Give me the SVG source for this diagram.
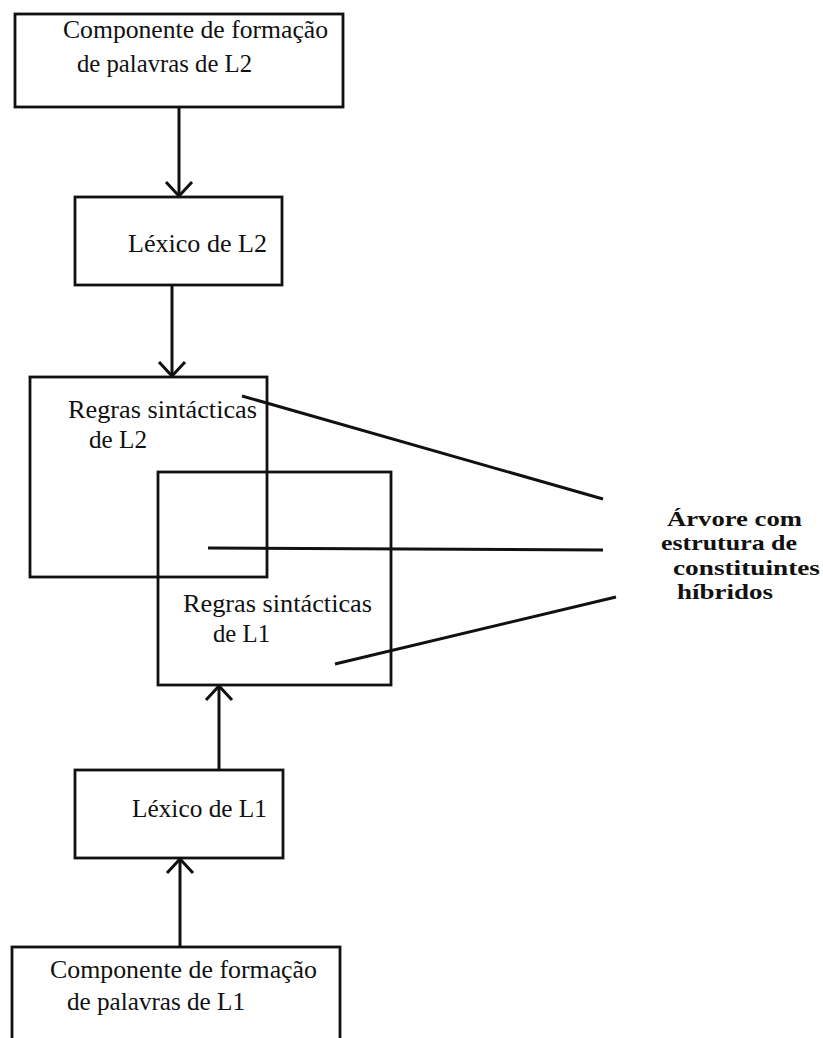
<svg xmlns="http://www.w3.org/2000/svg" width="823" height="1038" viewBox="0 0 823 1038">
<style>
.box{fill:none;stroke:#111;stroke-width:2.8}
.t{font-family:"Liberation Serif","Times New Roman",serif;font-size:25px;fill:#111}
.b{font-family:"Liberation Serif","Times New Roman",serif;font-size:21px;font-weight:bold;fill:#111}
.c{fill:none;stroke:#111;stroke-width:3}
</style>
<defs>
<marker id="chev" viewBox="-16 -16 20 32" refX="0" refY="0" markerWidth="20" markerHeight="32" markerUnits="userSpaceOnUse" orient="auto">
<path d="M -14 -13 L 0 0 L -14 13" fill="none" stroke="#111" stroke-width="3"/>
</marker>
</defs>
<rect width="823" height="1038" fill="#fff"/>
<g id="n1">
<rect class="box" x="15" y="14" width="328" height="93"/>
<text class="t" x="63" y="38" textLength="265" lengthAdjust="spacingAndGlyphs">Componente de formação</text>
<text class="t" x="77" y="72" textLength="175" lengthAdjust="spacingAndGlyphs">de palavras de L2</text>
</g>
<g id="n2">
<rect class="box" x="75" y="197" width="207" height="88"/>
<text class="t" x="128" y="252" textLength="139" lengthAdjust="spacingAndGlyphs">Léxico de L2</text>
</g>
<g id="n3">
<rect class="box" x="30" y="377" width="237" height="200"/>
<text class="t" x="68" y="418" textLength="189" lengthAdjust="spacingAndGlyphs">Regras sintácticas</text>
<text class="t" x="89" y="448" textLength="58" lengthAdjust="spacingAndGlyphs">de L2</text>
</g>
<g id="n4">
<rect class="box" x="158" y="472" width="233" height="213"/>
<text class="t" x="183" y="612" textLength="189" lengthAdjust="spacingAndGlyphs">Regras sintácticas</text>
<text class="t" x="213" y="642" textLength="57" lengthAdjust="spacingAndGlyphs">de L1</text>
</g>
<g id="n5">
<rect class="box" x="75" y="770" width="208" height="88"/>
<text class="t" x="132" y="817" textLength="135" lengthAdjust="spacingAndGlyphs">Léxico de L1</text>
</g>
<g id="n6">
<rect class="box" x="12" y="947" width="328" height="100"/>
<text class="t" x="50" y="978" textLength="267" lengthAdjust="spacingAndGlyphs">Componente de formação</text>
<text class="t" x="67" y="1010" textLength="178" lengthAdjust="spacingAndGlyphs">de palavras de L1</text>
</g>
<g id="label">
<text class="b" x="667" y="526" textLength="135" lengthAdjust="spacingAndGlyphs">Árvore com</text>
<text class="b" x="661" y="550" textLength="136" lengthAdjust="spacingAndGlyphs">estrutura de</text>
<text class="b" x="673" y="575" textLength="147" lengthAdjust="spacingAndGlyphs">constituintes</text>
<text class="b" x="677" y="599" textLength="96" lengthAdjust="spacingAndGlyphs">híbridos</text>
</g>
<g id="connectors">
<line class="c" x1="179" y1="107" x2="179" y2="196" marker-end="url(#chev)"/>
<line class="c" x1="172" y1="285" x2="172" y2="376" marker-end="url(#chev)"/>
<line class="c" x1="219" y1="770" x2="219" y2="686" marker-end="url(#chev)"/>
<line class="c" x1="180" y1="947" x2="180" y2="859" marker-end="url(#chev)"/>
<line class="c" x1="242" y1="396" x2="603" y2="499"/>
<line class="c" x1="208" y1="548" x2="603" y2="550"/>
<line class="c" x1="335" y1="664" x2="616" y2="597"/>
</g>
</svg>
